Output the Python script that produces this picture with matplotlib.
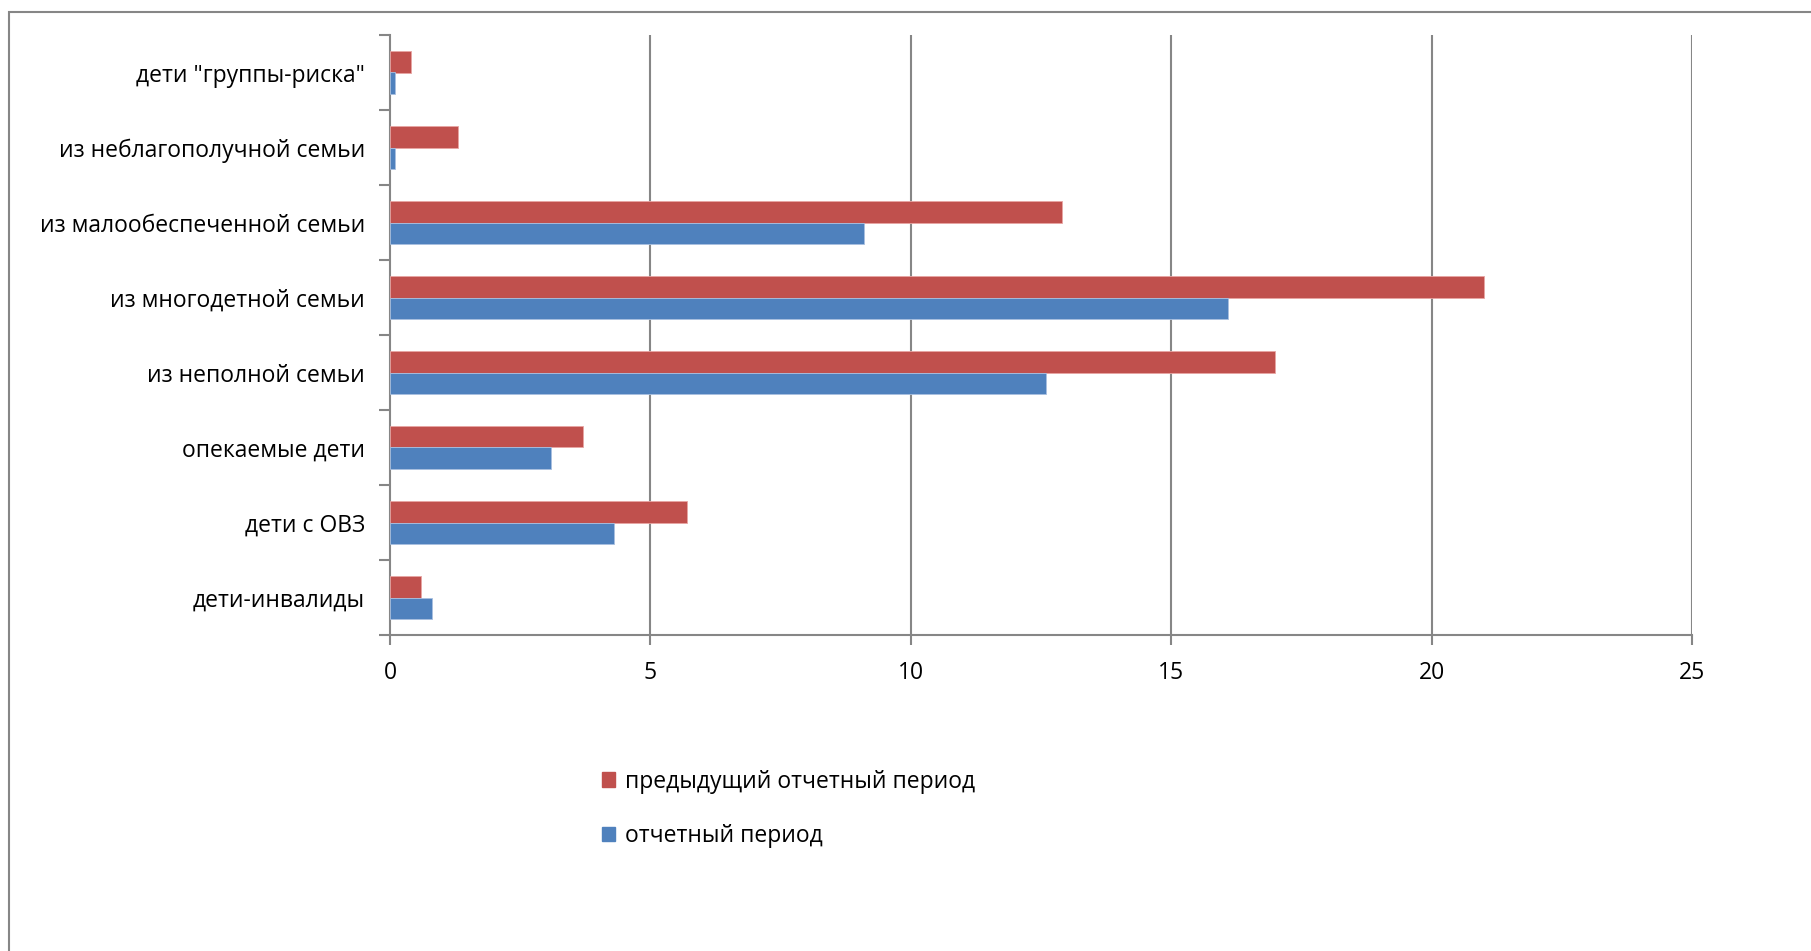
import matplotlib.pyplot as plt
from matplotlib.patches import Rectangle, Patch
import numpy as np

plt.rcParams['font.family'] = ['Open Sans', 'DejaVu Sans']

# categories from bottom to top
categories = ['дети-инвалиды', 'дети с ОВЗ', 'опекаемые дети', 'из неполной семьи',
              'из многодетной семьи', 'из малообеспеченной семьи',
              'из неблагополучной семьи', 'дети "группы-риска"']
prev_period = [0.6, 5.7, 3.7, 17.0, 21.0, 12.9, 1.3, 0.4]
cur_period = [0.8, 4.3, 3.1, 12.6, 16.1, 9.1, 0.1, 0.1]
xticks = [0, 5, 10, 15, 20, 25]

red = '#C0504D'
blue = '#4F81BD'
grey = '#868686'
fs = 16.5

fig = plt.figure(figsize=(18.11, 9.51), dpi=100)
ax = fig.add_axes([390/1811, 1-635/951, (1692-390)/1811, (635-35)/951])

y = np.arange(len(categories))
h = 0.285
ax.barh(y + h/2, prev_period, height=h, color=red, edgecolor='#e8a5a3', linewidth=0.6,
        label='предыдущий отчетный период', zorder=3)
ax.barh(y - h/2, cur_period, height=h, color=blue, edgecolor='#a9c0e0', linewidth=0.6,
        label='отчетный период', zorder=3)

ax.set_xlim(0, 25)
ax.set_ylim(-0.5, len(categories) - 0.5)
ax.set_xticks(xticks)
ax.set_xticklabels([str(t) for t in xticks], fontsize=fs)
ax.set_yticks(y)
ax.set_yticklabels(categories, fontsize=fs)
ax.set_yticks(np.arange(-0.5, len(categories)), minor=True)
ax.tick_params(axis='y', which='major', length=0, pad=18)
ax.tick_params(axis='y', which='minor', length=8, width=1.5, color=grey)
ax.tick_params(axis='x', length=7, width=1.5, color=grey, pad=12)

for v in xticks[1:]:
    ax.axvline(v, color=grey, lw=1.5, zorder=1)

for s in ['top', 'right']:
    ax.spines[s].set_visible(False)
for s in ['left', 'bottom']:
    ax.spines[s].set_color(grey)
    ax.spines[s].set_linewidth(1.5)

# chart area border
fig.patches.append(Rectangle((9/1811, -0.05), 1.2, 1.05 - 12/951, transform=fig.transFigure,
                             fill=False, edgecolor=grey, linewidth=1.5))

handles = [Patch(color=red), Patch(color=blue)]
fig.legend(handles, ['предыдущий отчетный период', 'отчетный период'],
           loc='upper left', bbox_to_anchor=(581/1811, 1-749/951), frameon=False,
           fontsize=fs, handlelength=0.6, handleheight=0.6, handletextpad=0.4,
           labelspacing=1.33)

fig.savefig('out.png', dpi=100)
